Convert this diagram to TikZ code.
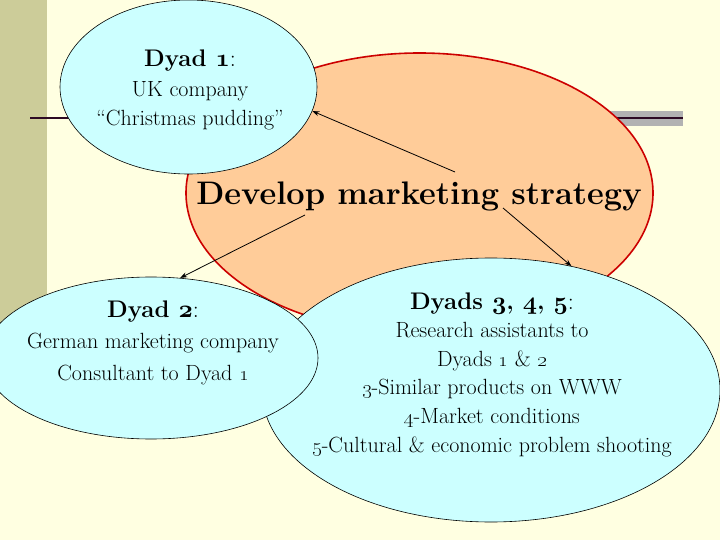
\documentclass[tikz,border=0pt]{standalone}
\usetikzlibrary{shapes.geometric,arrows.meta}
\definecolor{slidebg}{RGB}{255,255,225}
\definecolor{bandgreen}{RGB}{204,204,153}
\definecolor{bargray}{RGB}{178,178,178}
\definecolor{ruleline}{RGB}{45,10,35}
\definecolor{orangefill}{RGB}{255,204,153}
\definecolor{redline}{RGB}{204,0,0}
\definecolor{dyadcyan}{RGB}{204,255,255}
\newcommand{\boldnum}[1]{{\fontencoding{OML}\fontfamily{cmm}\fontseries{b}\fontshape{it}\selectfont #1}}
\begin{document}
\begin{tikzpicture}[x=1pt, y=-1pt,
		bubble/.style={ellipse, draw=black, line width=0.6pt, fill=dyadcyan, inner sep=0pt},
		lbl/.style={align=center, inner sep=0pt, anchor=base, font=\fontsize{22}{29.5}\selectfont},
		link/.style={-{Stealth[length=7pt,width=5pt]}, line width=0.8pt}]
			\clip (0,0) rectangle (720,540);
			\fill[slidebg] (0,0) rectangle (720,540);
			\fill[bandgreen] (0,0) rectangle (47,360);
			\fill[bargray] (580,111) rectangle (683,126);
			\draw[ruleline, line width=1.4pt] (30,118) -- (683,118);
			
			\node (strat) at (419.5,193) [ellipse, draw=redline, line width=1.6pt, fill=orangefill, minimum width=467pt, minimum height=280pt]{};
			\node (dyadthree) at (491,390) [bubble, minimum width=458pt, minimum height=264pt]{};
			\node (dyadtwo) at (151,358) [bubble, minimum width=334pt, minimum height=162pt]{};
			\node (dyadone) at (188.5,87) [bubble, minimum width=257pt, minimum height=174pt]{};
			
			\node (title) at (419,205) [anchor=base, inner sep=0pt, font=\fontsize{32.6}{38}\selectfont\bfseries]{Develop marketing strategy};
			\node (onetext) at (190,126) [lbl]{{\fontsize{24}{29}\selectfont\textbf{Dyad \boldnum{1}}:}\\UK company\\``Christmas pudding''};
			\node (twotext) at (153,380) [lbl, font=\fontsize{22}{31.5}\selectfont]{{\fontsize{24}{29}\selectfont\textbf{Dyad \boldnum{2}}:}\\German marketing company\\Consultant to Dyad \oldstylenums{1}};
			\node (threetext) at (492,452) [lbl, font=\fontsize{22}{28.6}\selectfont]{{\fontsize{24}{29}\selectfont\textbf{Dyads \boldnum{3}, \boldnum{4}, \boldnum{5}}:}\\Research assistants to\\Dyads \oldstylenums{1} \& \oldstylenums{2}\\\oldstylenums{3}-Similar products on WWW\\\oldstylenums{4}-Market conditions\\\oldstylenums{5}-Cultural \& economic problem shooting};
			
			\coordinate (fromone) at (455,172);
			\coordinate (fromtwo) at (305,215);
			\coordinate (fromthree) at (503,208);
			\draw[link] (fromone) -- (dyadone.-11);
			\draw[link] (fromtwo) -- (dyadtwo.70);
			\draw[link] (fromthree) -- (dyadthree.57);
		\end{tikzpicture}
\end{document}
